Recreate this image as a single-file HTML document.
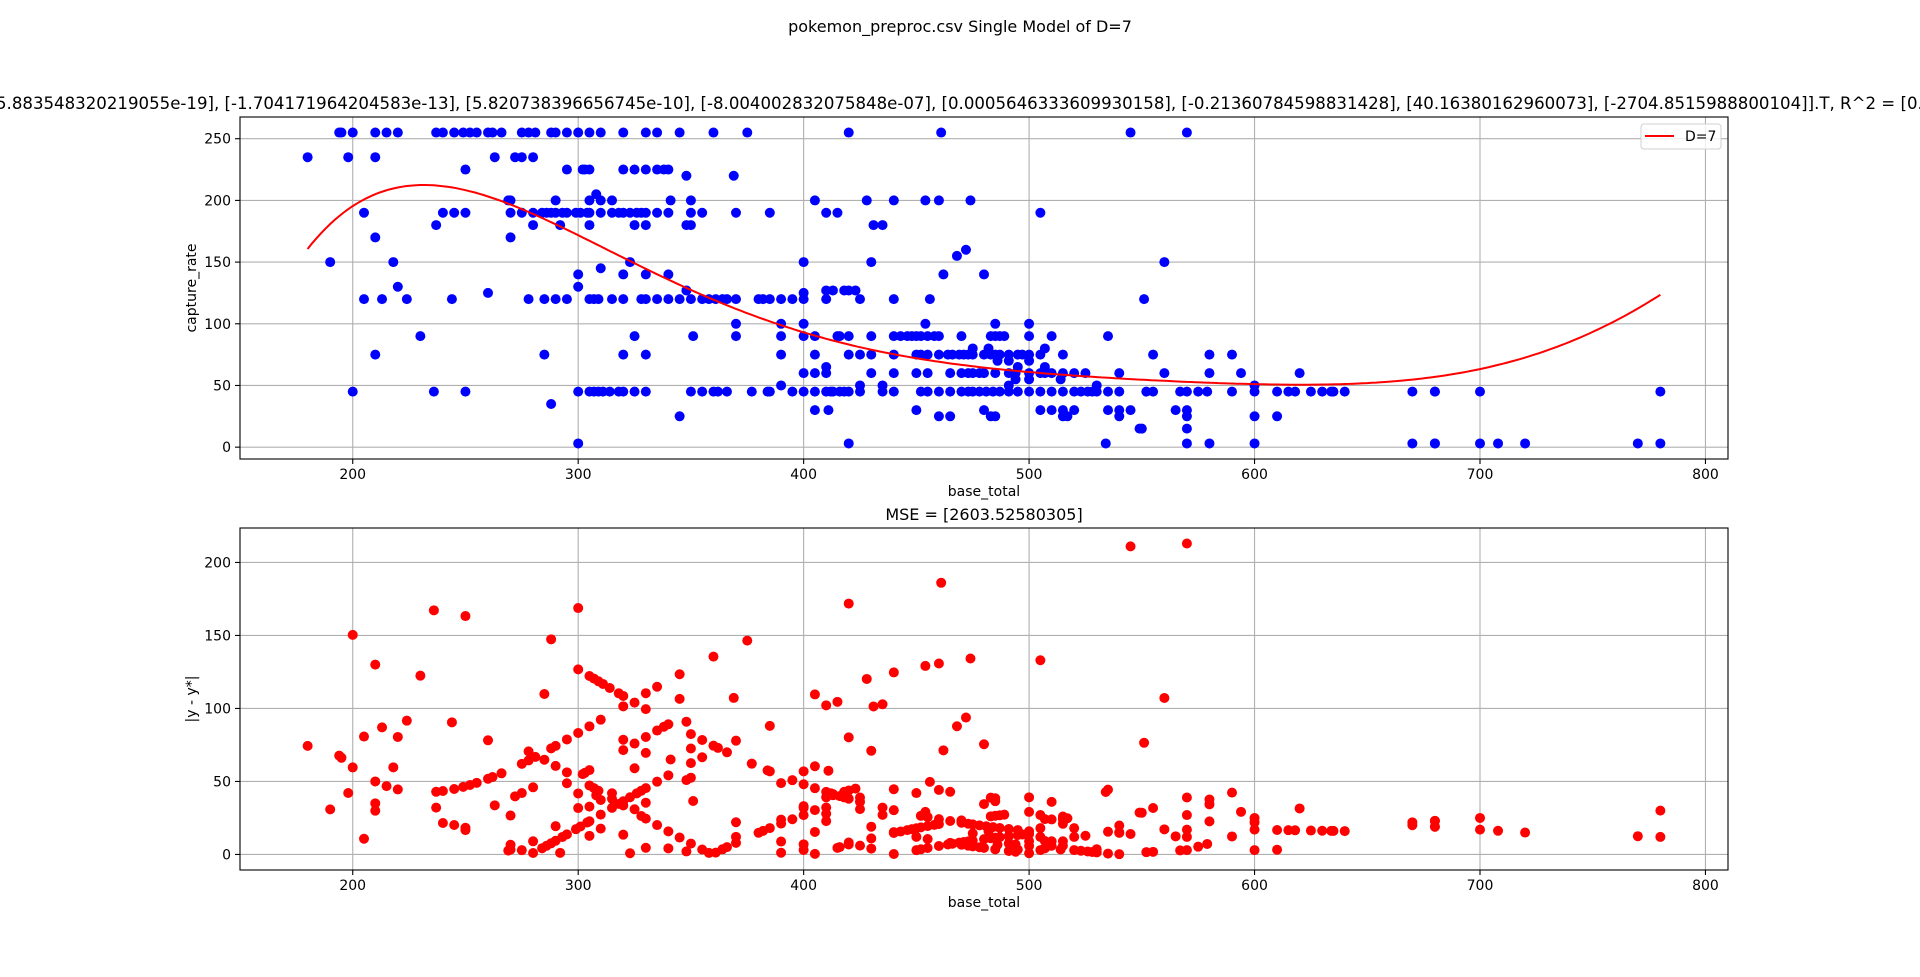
<!DOCTYPE html>
<html><head><meta charset="utf-8"><style>
html,body{margin:0;padding:0;background:#fff;}
svg{display:block;font-family:"DejaVu Sans","Liberation Sans",sans-serif;}
</style></head><body>
<svg id="fig" width="1920" height="977" viewBox="0 0 1920 977" xmlns="http://www.w3.org/2000/svg">
<text x="960" y="32" font-size="16" text-anchor="middle" fill="#000">pokemon_preproc.csv Single Model of D=7</text>
<text x="-4" y="109" font-size="16.6" fill="#000">5.883548320219055e-19], [-1.704171964204583e-13], [5.820738396656745e-10], [-8.004002832075848e-07], [0.0005646333609930158], [-0.21360784598831428], [40.16380162960073], [-2704.8515988800104]].T, R^2 = [0.2</text>
<text x="984" y="520" font-size="16" text-anchor="middle" fill="#000">MSE = [2603.52580305]</text>
<g id="top"></g>
<g id="bot"></g>
</svg>
<script>
const coefs = [5.883548320219055e-19, -1.704171964204583e-13, 5.820738396656745e-10, -8.004002832075848e-07, 0.0005646333609930158, -0.21360784598831428, 40.16380162960073, -2704.8515988800104];
const xTicks = [200,300,400,500,600,700,800];
const topYTicks = [0,50,100,150,200,250];
const botYTicks = [0,50,100,150,200];
const seriesLabel = "D=7";
// predicted values used for residual panel beyond x=500
const residKnotX = [500,520,545,570,600,640,670,700,720,780];
const residKnotPred = [60,48,44,42,28,29,23,20,18,15];
const pts = [
[194,255],[195,255],[200,255],[210,255],[215,255],[220,255],[237,255],[240,255],[245,255],[249,255],[252,255],[255,255],[260,255],[262,255],[266,255],[275,255],[278,255],[281,255],
[180,235],[198,235],[210,235],[263,235],[272,235],[275,235],[280,235],[250,225],[269,200],[270,200],
[205,190],[240,190],[245,190],[250,190],[270,190],[275,190],[280,190],[237,180],[280,180],[210,170],[270,170],
[190,150],[218,150],[220,130],[260,125],[205,120],[213,120],[224,120],[244,120],[278,120],[230,90],[210,75],[200,45],[236,45],[250,45],
[288,255],[290,255],[295,255],[300,255],[305,255],[310,255],[320,255],[330,255],[335,255],[345,255],[360,255],[375,255],
[295,225],[302,225],[303,225],[305,225],[320,225],[325,225],[330,225],[335,225],[338,225],[340,225],[348,220],[369,220],[308,205],
[290,200],[305,200],[310,200],[315,200],[341,200],[350,200],[405,200],
[284,190],[286,190],[288,190],[290,190],[293,190],[295,190],[299,190],[301,190],[304,190],[305,190],[310,190],[315,190],[318,190],[320,190],[323,190],[326,190],[328,190],[330,190],[335,190],[340,190],[350,190],[355,190],[370,190],[385,190],[410,190],[415,190],
[292,180],[305,180],[325,180],[330,180],[348,180],[350,180],[323,150],[400,150],[310,145],[300,140],[320,140],[330,140],[340,140],[300,130],[348,127],[400,125],[410,127],[413,127],
[285,120],[290,120],[295,120],[305,120],[307,120],[309,120],[315,120],[320,120],[328,120],[330,120],[335,120],[340,120],[345,120],[350,120],[355,120],[358,120],[361,120],[364,120],[366,120],[370,120],[380,120],[382,120],[385,120],[390,120],[395,120],[400,120],[410,120],
[370,100],[390,100],[400,100],[325,90],[351,90],[370,90],[390,90],[400,90],[405,90],[415,90],[285,75],[320,75],[330,75],[390,75],[405,75],[400,60],[405,60],[410,60],[410,65],[390,50],
[300,45],[305,45],[307,45],[309,45],[311,45],[314,45],[318,45],[320,45],[325,45],[330,45],[350,45],[355,45],[360,45],[362,45],[366,45],[377,45],[384,45],[385,45],[395,45],[400,45],[405,45],[410,45],[412,45],[413,45],
[288,35],[405,30],[411,30],[345,25],[300,3],
[420,255],[461,255],[545,255],[428,200],[440,200],[454,200],[460,200],[474,200],[505,190],[431,180],[435,180],[472,160],[468,155],[430,150],[462,140],[480,140],
[418,127],[420,127],[423,127],[425,120],[440,120],[456,120],[454,100],[485,100],[500,100],
[416,90],[420,90],[430,90],[440,90],[443,90],[446,90],[448,90],[450,90],[452,90],[455,90],[458,90],[460,90],[470,90],[483,90],[485,90],[487,90],[489,90],[500,90],[510,90],[535,90],
[475,80],[482,80],[507,80],
[420,75],[425,75],[430,75],[440,75],[450,75],[452,75],[455,75],[460,75],[464,75],[466,75],[469,75],[471,75],[473,75],[475,75],[480,75],[483,75],[485,75],[487,75],[491,75],[495,75],[497,75],[500,75],[505,75],[515,75],
[486,70],[491,70],[500,70],[495,65],[507,65],
[430,60],[440,60],[450,60],[455,60],[465,60],[470,60],[473,60],[475,60],[478,60],[480,60],[485,60],[491,60],[494,60],[500,60],[505,60],[507,60],[510,60],[515,60],[520,60],[525,60],[540,60],
[494,55],[500,55],[514,55],[425,50],[435,50],[491,50],[530,50],
[416,45],[418,45],[420,45],[425,45],[435,45],[440,45],[452,45],[455,45],[460,45],[465,45],[470,45],[473,45],[475,45],[478,45],[481,45],[484,45],[487,45],[491,45],[495,45],[500,45],[505,45],[510,45],[515,45],[520,45],[523,45],[526,45],[528,45],[530,45],[535,45],[540,45],
[450,30],[480,30],[505,30],[510,30],[515,30],[520,30],[535,30],[540,30],[545,30],[460,25],[465,25],[483,25],[485,25],[515,25],[517,25],[540,25],[549,15],[420,3],[534,3],
[570,255],[560,150],[551,120],[555,75],[580,75],[590,75],[560,60],[580,60],[594,60],[620,60],[600,50],
[552,45],[555,45],[567,45],[570,45],[575,45],[579,45],[590,45],[600,45],[610,45],[615,45],[618,45],[625,45],[630,45],[634,45],[635,45],[640,45],[670,45],[680,45],
[565,30],[570,30],[570,25],[600,25],[610,25],[550,15],[570,15],[570,3],[580,3],[600,3],[670,3],[680,3],
[680,45],[700,45],[780,45],[680,3],[700,3],[708,3],[720,3],[770,3],[780,3]
];
const xs = pts.map(p=>p[0]);
const ys = pts.map(p=>p[1]);

const NS="http://www.w3.org/2000/svg";
const L=240,R=1728,XMIN=150,XMAX=810;
const sx=v=>L+(v-XMIN)*(R-L)/(XMAX-XMIN);
function poly(x){let s=0;for(const c of coefs)s=s*x+c;return s;}
function residPred(x){
  if(x<=residKnotX[0]) return poly(x);
  for(let i=1;i<residKnotX.length;i++){
    if(x<=residKnotX[i]){const a=residKnotX[i-1],b=residKnotX[i];const t=(x-a)/(b-a);return residKnotPred[i-1]+t*(residKnotPred[i]-residKnotPred[i-1]);}
  }
  return residKnotPred[residKnotPred.length-1];
}
function mk(tag,attrs,parent){const e=document.createElementNS(NS,tag);for(const k in attrs)e.setAttribute(k,attrs[k]);parent.appendChild(e);return e;}

function axes(g,top,bot,ymin,ymax,yticks,ylabel,prefix){
  const sy=v=>bot-(v-ymin)*(bot-top)/(ymax-ymin);
  for(const t of xTicks){const x=sx(t);
    const gl=mk('line',{x1:x,x2:x,y1:top,y2:bot,stroke:'#b0b0b0','stroke-width':1.1},g);
    
    
    mk('line',{x1:x,x2:x,y1:bot,y2:bot+5,stroke:'#000','stroke-width':1.1},g);
    const tl=mk('text',{x:x,y:bot+20,'font-size':14,'text-anchor':'middle'},g);tl.textContent=t;
    
    
  }
  for(const t of yticks){const y=sy(t);
    const gl=mk('line',{x1:L,x2:R,y1:y,y2:y,stroke:'#b0b0b0','stroke-width':1.1},g);
    
    
    mk('line',{x1:L-5,x2:L,y1:y,y2:y,stroke:'#000','stroke-width':1.1},g);
    const tl=mk('text',{x:L-9,y:y+5,'font-size':14,'text-anchor':'end'},g);tl.textContent=t;
    
    
  }
  const xl=mk('text',{x:(L+R)/2,y:bot+37,'font-size':14,'text-anchor':'middle'},g);xl.textContent='base_total';
  
  
  const yl=mk('text',{x:0,y:0,'font-size':14,'text-anchor':'middle',transform:`translate(196,${(top+bot)/2}) rotate(-90)`},g);yl.textContent=ylabel;
  
  
  return sy;
}
function frame(g,top,bot){
  const f=mk('rect',{x:L,y:top,width:R-L,height:bot-top,fill:'none',stroke:'#000','stroke-width':1.1},g);
  
  
}

// top
const gt=document.getElementById('top');
const syT=axes(gt,117,459,-9.6,267.6,topYTicks,'capture_rate','top');
for(let i=0;i<xs.length;i++){
  const c=mk('circle',{cx:sx(xs[i]),cy:syT(ys[i]),r:5,fill:'#0000ff'},gt);
  
  
}
let d='';for(let x=180;x<=780;x+=2){d+=(d?'L':'M')+sx(x).toFixed(1)+','+syT(poly(x)).toFixed(1);}
const pl=mk('path',{d:d,fill:'none',stroke:'#ff0000','stroke-width':2},gt);


frame(gt,117,459);
const lg=mk('g',{},gt);


mk('rect',{x:1641,y:124,width:80,height:25,rx:3,fill:'#fff','fill-opacity':0.8,stroke:'#d0d0d0'},lg);
mk('line',{x1:1645,x2:1674,y1:136,y2:136,stroke:'#ff0000','stroke-width':2},lg);
const lt=mk('text',{x:1685,y:141,'font-size':14},lg);lt.textContent=seriesLabel;



// bottom
const gb=document.getElementById('bot');
const syB=axes(gb,528,870,-10.65,223.6,botYTicks,'|y - y*|','bottom');
for(let i=0;i<xs.length;i++){
  const r=Math.abs(ys[i]-residPred(xs[i]));
  const c=mk('circle',{cx:sx(xs[i]),cy:syB(r),r:5,fill:'#ff0000'},gb);
  
  
}
frame(gb,528,870);
</script>
</body></html>
